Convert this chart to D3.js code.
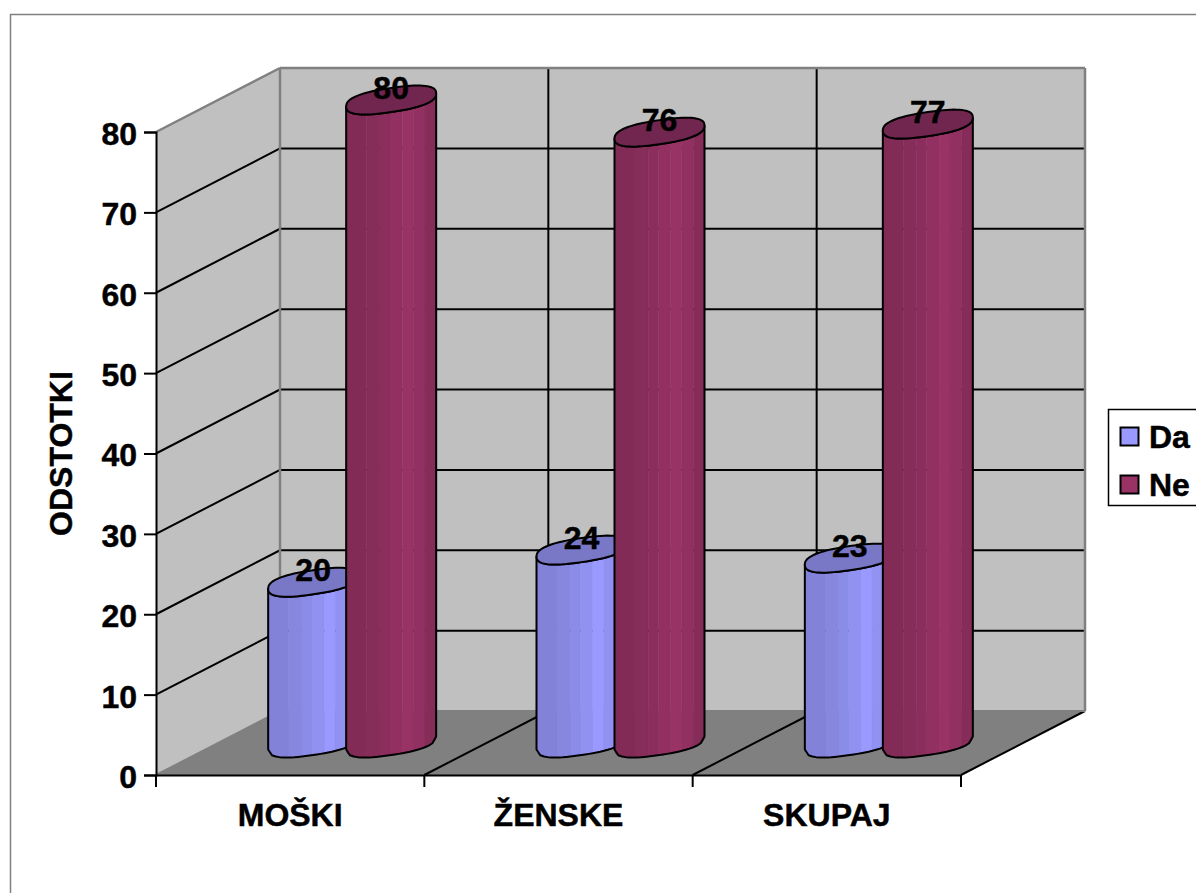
<!DOCTYPE html>
<html><head><meta charset="utf-8">
<script src="https://cdnjs.cloudflare.com/ajax/libs/d3/7.8.5/d3.min.js"></script>
<style>html,body{margin:0;padding:0;background:#fff;overflow:hidden}svg{display:block}
text{font-family:"Liberation Sans",Arial,sans-serif;font-weight:700;fill:#000;font-size:32px;stroke:#000;stroke-width:.45px}</style>
</head><body><svg id="c" width="1196" height="893"></svg>
<script>
const categories = ["MOŠKI", "ŽENSKE", "SKUPAJ"];
const seriesNames = ["Da", "Ne"];
const daValues = [20, 24, 23];
const neValues = [80, 76, 77];
const yTicks = [0, 10, 20, 30, 40, 50, 60, 70, 80];
const yTitle = "ODSTOTKI";
const seriesColors = ["#9999FF", "#993366"];
const topColors = ["#7878C6", "#70264F"];
const facetStops = [0, .227, .375, .487, .625, .747, .877, 1];
const facetShades = [.85, .88, .91, .95, 1, .95, .87];

const svg = d3.select("#c");
const x = d3.scaleBand().domain(categories).range([156, 961]);
const y = d3.scaleLinear().domain([0, 80]).range([775, 132]);
const offset = d3.scalePoint().domain(seriesNames).range([-39, 39]);
const DX = 124, DY = -64;
const grey = "#808080";

svg.append("rect").attr("x",10.5).attr("y",14.5).attr("width",1300).attr("height",1000)
  .attr("fill","#fff").attr("stroke",grey).attr("stroke-width",1.5);

const poly = (pts, fill, stroke) => svg.append("polygon").attr("points", pts.map(p=>p.join(",")).join(" "))
  .attr("fill", fill).attr("stroke", stroke||"none").attr("stroke-width",2);
const line = (x1,y1,x2,y2,c,w) => svg.append("line").attr("x1",x1).attr("y1",y1).attr("x2",x2).attr("y2",y2)
  .attr("stroke",c).attr("stroke-width",w||2);

const x0 = x.range()[0], x1 = x.range()[1], yb = y(0), yt = y(80);
poly([[x0,yb],[x0+DX,yb+DY],[x0+DX,yt+DY],[x0,yt]], "#C0C0C0");
poly([[x0+DX,yb+DY],[x1+DX,yb+DY],[x1+DX,yt+DY],[x0+DX,yt+DY]], "#C0C0C0");
poly([[x0,yb],[x1,yb],[x1+DX,yb+DY],[x0+DX,yb+DY]], grey);

yTicks.slice(1,-1).forEach(v => {
  line(x0,y(v),x0+DX,y(v)+DY,"#000");
  line(x0+DX,y(v)+DY,x1+DX,y(v)+DY,"#000");
});
categories.slice(1).forEach(c => {
  line(x(c)+DX,yb+DY,x(c)+DX,yt+DY,"#000");
  line(x(c),yb,x(c)+DX,yb+DY,"#000");
});
line(x1,yb,x1+DX,yb+DY,"#000");
line(x0,yt,x0+DX,yt+DY,grey,2.5);
line(x0+DX,yt+DY,x1+DX,yt+DY,grey,2.5);
line(x0+DX,yt+DY,x0+DX,yb+DY,grey,2.5);
line(x1+DX,yt+DY,x1+DX,yb+DY,grey,2.5);
line(x0,yb,x0+DX,yb+DY,grey,2);
line(x0+DX,yb+DY,x1+DX,yb+DY,grey,2);

// axes
const gy = svg.append("g").attr("transform",`translate(${x0},0)`)
  .call(d3.axisLeft(y).tickValues(yTicks).tickSize(12).tickPadding(7).tickFormat(d3.format("d")));
const gx = svg.append("g").attr("transform",`translate(0,${yb})`)
  .call(d3.axisBottom(x).tickSize(0).tickPadding(28));
[gy,gx].forEach(g=>{g.selectAll("path,line").attr("stroke","#000").attr("stroke-width",2);
  g.attr("font-size",null).attr("font-family",null);});
gy.selectAll("text").attr("dy","0.39em");
x.domain().concat("end").forEach(c => { const px = c==="end"?x1:x(c); line(px,yb,px,yb+12,"#000"); });

// cylinders: rounded, slightly tilted projected circle
const R = 45, VY = 13.7, TILT = 0.5, P = 0.8;
const sp = v => Math.sign(v)*Math.pow(Math.abs(v),P);
const pt = (cx,cy,u) => [cx + R*sp(Math.cos(u)),
  cy - VY*(sp(Math.sin(u))*Math.cos(TILT) + sp(Math.cos(u))*Math.sin(TILT))];
const uOfFrac = f => { const c = 2*f-1; return 2*Math.PI - Math.acos(Math.sign(c)*Math.pow(Math.abs(c),1/P)); };
const arc = (cx,cy,f0,f1) => d3.range(0,25).map(i => pt(cx,cy,uOfFrac(f0+(f1-f0)*i/24)));
const path = d3.line();
const labels = [];
categories.forEach((c,i) => {
  [daValues,neValues].forEach((vals,s) => {
    const v = vals[i];
    const cx = x(c) + x.bandwidth()/2 + DX/2 + offset(seriesNames[s]);
    const cyB = yb + DY/2, cyT = y(v) + DY/2;
    const base = d3.color(seriesColors[s]);
    facetShades.forEach((k,j) => {
      const a = arc(cx,cyB,facetStops[j],facetStops[j+1]);
      const b = arc(cx,cyT,facetStops[j],facetStops[j+1]).reverse();
      const col = d3.rgb(base.r*k,base.g*k,base.b*k);
      svg.append("path").attr("d",path(a.concat(b))+"Z").attr("fill",col).attr("stroke",col).attr("stroke-width",.4);
    });
    svg.append("path").attr("d",path(arc(cx,cyT,0,1).reverse().concat(arc(cx,cyB,0,1)).concat([pt(cx,cyT,0)])))
      .attr("fill","none").attr("stroke","#000").attr("stroke-width",2).attr("stroke-linejoin","round");
    svg.append("path").attr("d",path(d3.range(0,73).map(n=>pt(cx,cyT,n/72*2*Math.PI)))+"Z")
      .attr("fill",topColors[s]).attr("stroke","#000").attr("stroke-width",2);
    labels.push({cx,cyT,v});
  });
});
labels.forEach(d => svg.append("text").attr("x",d.cx).attr("y",d.cyT-1).attr("text-anchor","middle").text(d.v));

// y title
svg.append("text").attr("transform",`translate(72,${y(40)}) rotate(-90)`).attr("text-anchor","middle").text(yTitle);

// legend
svg.append("rect").attr("x",1108.5).attr("y",409.5).attr("width",120).attr("height",96)
  .attr("fill","#fff").attr("stroke","#000").attr("stroke-width",1.5);
seriesNames.forEach((n,i) => {
  svg.append("rect").attr("x",1120.5).attr("y",427.5+48*i).attr("width",18).attr("height",18)
    .attr("fill",seriesColors[i]).attr("stroke","#000").attr("stroke-width",2);
  svg.append("text").attr("x",1149).attr("y",448+48*i).text(n);
});
</script></body></html>
